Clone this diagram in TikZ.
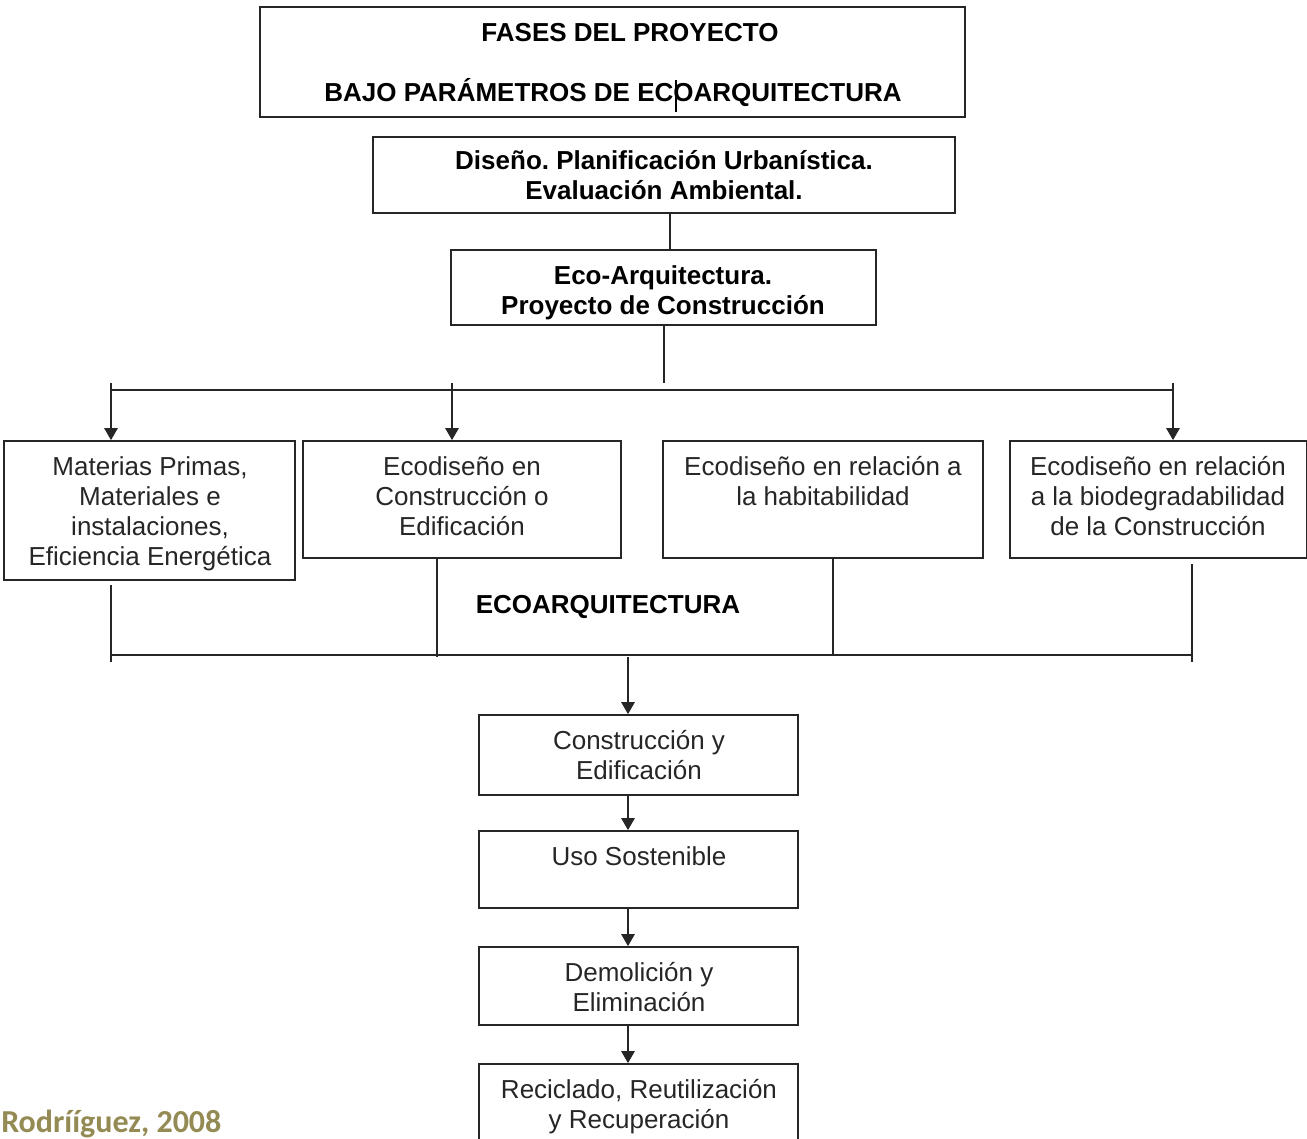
\documentclass[tikz,border=0pt]{standalone}
\usepackage{fontspec}
\setmainfont{Liberation Sans}
\newfontfamily\carlito{Carlito}
\usetikzlibrary{fit,arrows.meta}
\definecolor{srcolive}{HTML}{948A54}
\frenchspacing
\tikzset{
 box/.style={draw=black!85, line width=1.3pt, inner sep=0pt},
 txt/.style={inner sep=0pt, anchor=north, align=center, text=black!85, font=\fontsize{19.5}{22.5}\selectfont},
 btxt/.style={inner sep=0pt, anchor=north, align=center, text=black, font=\fontsize{19.5}{22.5}\selectfont\bfseries},
 ln/.style={draw=black!85, line width=1.3pt},
 arr/.style={ln, -{Triangle[width=10pt,length=9pt]}},
}
\begin{document}
\begin{tikzpicture}[x=0.75pt,y=-0.75pt]
\useasboundingbox (0,0) rectangle (1307,1139);
\clip (0,0) rectangle (1307,1139);
% boxes
\node[box, fit={(260,7)(965,117)}] (top) {};
\node[box, fit={(373,137)(955,213)}] (dis) {};
\node[box, fit={(451,250)(876,325)}] (eco) {};
\node[box, fit={(4,441)(295,580)}] (b1) {};
\node[box, fit={(303,441)(621,558)}] (b2) {};
\node[box, fit={(663,441)(983,558)}] (b3) {};
\node[box, fit={(1010,441)(1307,558)}] (b4) {};
\node[box, fit={(479,715)(798,795)}] (c1) {};
\node[box, fit={(479,831)(798,908)}] (c2) {};
\node[box, fit={(479,947)(798,1025)}] (c3) {};
\node[box, fit={(479,1064)(798,1150)}] (c4) {};
% texts
\node[btxt] (t1) at (630,20) {\strut FASES DEL PROYECTO};
\node[btxt] (t2) at (613,78) {\strut BAJO PARÁMETROS DE ECOARQUITECTURA};
\draw[line width=0.9pt] (676,80) -- (676,112);
\node[btxt] (t3) at (664,148) {\strut Diseño. Planificación Urbanística.\\Evaluación Ambiental.};
\node[btxt] (t4) at (663,263) {\strut Eco-Arquitectura.\\Proyecto de Construcción};
\node[txt] (t5) at (150,454) {\strut Materias Primas,\\Materiales e\\instalaciones,\\Eficiencia Energética};
\node[txt] (t6) at (462,454) {\strut Ecodiseño en\\Construcción o\\Edificación};
\node[txt] (t7) at (823,454) {\strut Ecodiseño en relación a\\la habitabilidad};
\node[txt] (t8) at (1158,454) {\strut Ecodiseño en relación\\a la biodegradabilidad\\de la Construcción};
\node[btxt] (t9) at (608,592) {\strut ECOARQUITECTURA};
\node[txt] (t10) at (639,728) {\strut Construcción y\\Edificación};
\node[txt] (t11) at (639,844) {\strut Uso Sostenible};
\node[txt] (t12) at (639,960) {\strut Demolición y\\Eliminación};
\node[txt] (t13) at (639,1077) {\strut Reciclado, Reutilización\\y Recuperación};
\node[anchor=base west, inner sep=0pt, text=srcolive, font=\carlito\bfseries\fontsize{24}{28}\selectfont] (src) at (1,1132) {Rodrííguez, 2008};
% coordinates
\coordinate (x670) at (670,0);
\coordinate (x664) at (664,0);
\coordinate (stub) at (664,383);
\coordinate (busL) at (111,390);
\coordinate (busR) at (1173,390);
\coordinate (a1) at (111,383);
\coordinate (a2) at (452,383);
\coordinate (a3) at (1173,383);
\coordinate (l1) at (111,585);
\coordinate (l1e) at (111,662);
\coordinate (l2e) at (437,657);
\coordinate (l3e) at (833,655);
\coordinate (l4) at (1192,564);
\coordinate (l4e) at (1192,662);
\coordinate (lbL) at (111,655);
\coordinate (lbR) at (1193,655);
\coordinate (down) at (628,657);
\coordinate (x628) at (628,0);
% connectors
\draw[ln] (dis.south -| x670) -- (eco.north -| x670);
\draw[ln] (eco.south -| x664) -- (stub);
\draw[ln] (busL) -- (busR);
\draw[arr] (a1) -- (b1.north -| a1);
\draw[arr] (a2) -- (b2.north -| a2);
\draw[arr] (a3) -- (b4.north -| a3);
\draw[ln] (l1) -- (l1e);
\draw[ln] (b2.south -| l2e) -- (l2e);
\draw[ln] (b3.south -| l3e) -- (l3e);
\draw[ln] (l4) -- (l4e);
\draw[ln] (lbL) -- (lbR);
\draw[arr] (down) -- (c1.north -| x628);
\draw[arr] (c1.south -| x628) -- (c2.north -| x628);
\draw[arr] (c2.south -| x628) -- (c3.north -| x628);
\draw[arr] (c3.south -| x628) -- (c4.north -| x628);
\end{tikzpicture}
\end{document}
